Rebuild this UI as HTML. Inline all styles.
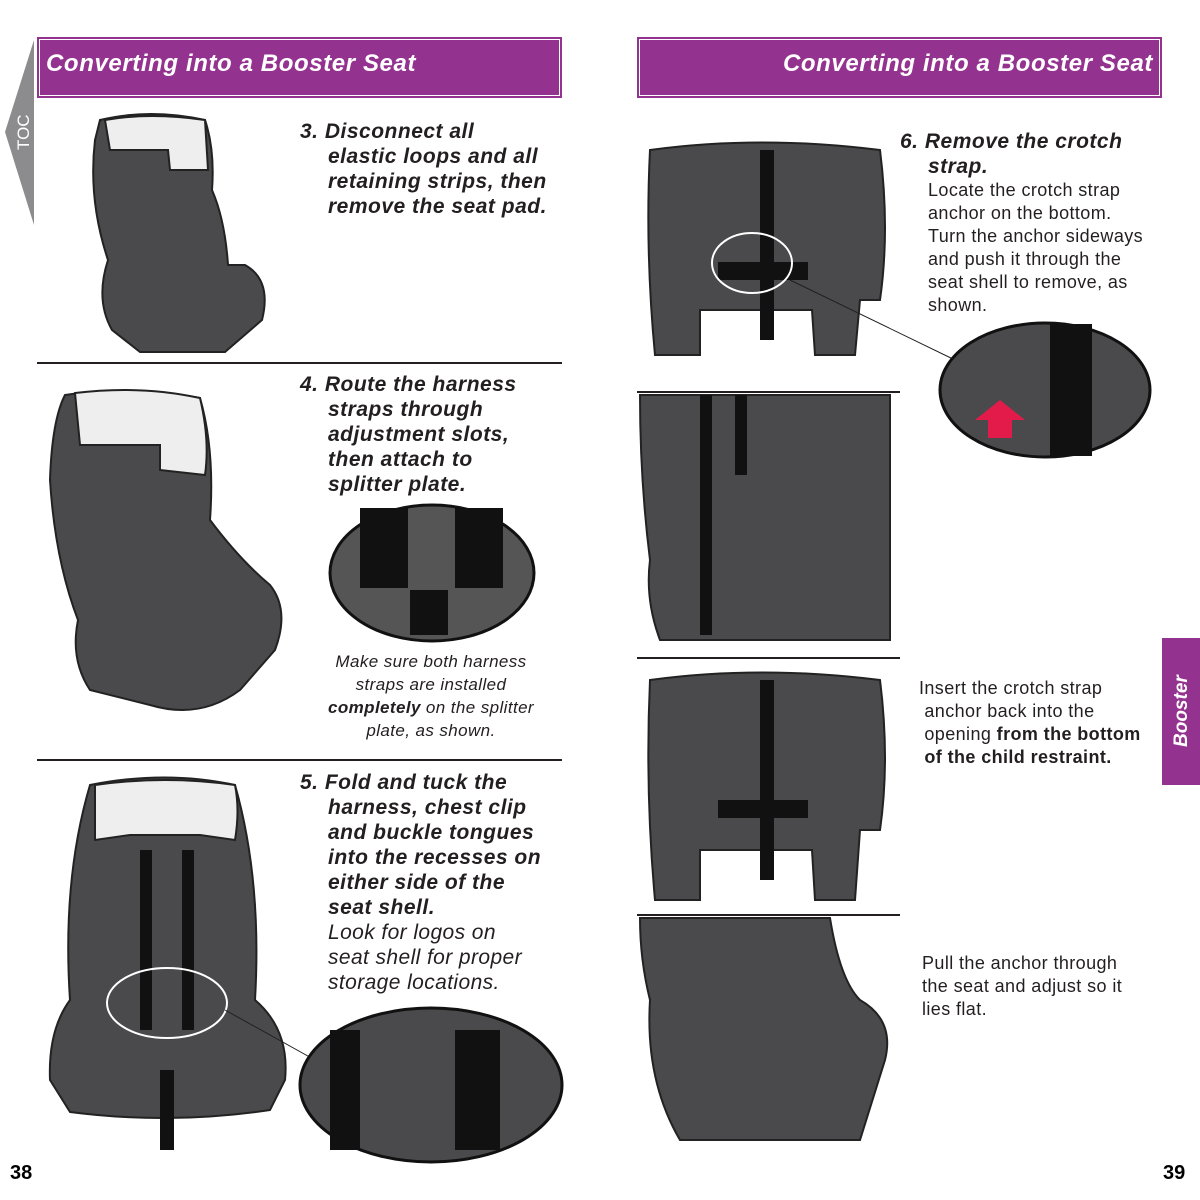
<!DOCTYPE html>
<html><head><meta charset="utf-8"><style>
html,body{margin:0;padding:0;background:#fff}
body{width:1200px;height:1200px;position:relative;overflow:hidden;font-family:"Liberation Sans",sans-serif}
.t{position:absolute;font-weight:bold;font-style:italic;color:#231f20;font-size:21px;line-height:25px;letter-spacing:0.5px}
.i{display:inline-block;width:28px}
.b{position:absolute;color:#231f20;font-size:18px;line-height:23px;letter-spacing:0.4px}
.hd{position:absolute;top:37px;height:61px;width:525px;background:#94338f;box-sizing:border-box;border:1px solid #94338f;outline:1px solid #fff;outline-offset:-3px;color:#fff;font-weight:bold;font-style:italic;font-size:24px;line-height:52px;letter-spacing:0.6px}
</style></head><body>
<div class="hd" style="left:37px;padding-left:8px">Converting into a Booster Seat</div>
<div class="hd" style="left:637px;text-align:right;padding-right:8px">Converting into a Booster Seat</div>
<svg width="1200" height="1200" style="position:absolute;left:0;top:0">
<polygon points="34,40 34,225 5,132" fill="#8c8c8e"/>
<text x="0" y="0" transform="translate(29,150) rotate(-90)" fill="#fff" font-size="17" font-family="Liberation Sans">TOC</text>
<rect x="1162" y="638" width="38" height="147" fill="#94338f"/>
<text transform="translate(1187,747) rotate(-90)" fill="#fff" font-size="19" font-weight="bold" font-style="italic" font-family="Liberation Sans">Booster</text>
<g stroke="#231f20" stroke-width="2"><line x1="37" y1="363" x2="562" y2="363"/><line x1="37" y1="760" x2="562" y2="760"/><line x1="637" y1="392" x2="900" y2="392"/><line x1="637" y1="658" x2="900" y2="658"/><line x1="637" y1="915" x2="900" y2="915"/></g>
<g fill="#4a4a4c" stroke="#222" stroke-width="2">
<path d="M100,120 Q150,108 205,120 Q215,150 212,190 Q225,220 228,265 L245,265 Q272,280 262,320 L225,352 L140,352 L112,330 Q95,300 108,260 Q88,200 95,140 Z"/>
<path d="M105,120 Q150,112 205,120 L208,170 L170,170 L168,150 L110,150 Z" fill="#eee"/>
<path d="M65,395 Q130,385 200,398 Q215,450 210,520 Q240,560 270,585 Q290,610 275,650 L240,690 Q200,720 150,705 L90,690 Q70,660 78,620 Q55,560 50,480 Q52,420 65,395 Z"/>
<path d="M75,393 Q140,385 200,398 Q210,440 205,475 L160,470 L160,445 L80,445 Z" fill="#eee"/>
<path d="M90,785 Q165,770 235,785 Q262,880 255,1000 Q290,1030 285,1080 L270,1110 Q170,1125 70,1112 L50,1080 Q48,1030 70,1000 Q62,880 90,785 Z"/>
<path d="M95,785 Q165,775 235,785 Q240,810 235,840 L200,835 L130,835 L95,840 Z" fill="#eee"/>
<path d="M650,150 Q760,135 880,150 Q890,230 880,300 L860,300 L855,355 L815,355 L812,310 L700,310 L700,355 L655,355 Q645,250 650,150 Z"/>
<path d="M640,395 L890,395 L890,640 L660,640 Q645,600 650,560 Q640,480 640,395 Z"/>
<path d="M650,680 Q760,665 880,680 Q890,760 880,830 L860,830 L855,900 L815,900 L812,850 L700,850 L700,900 L655,900 Q645,790 650,680 Z"/>
<path d="M640,918 L830,918 Q840,980 860,1000 Q895,1020 885,1060 L860,1140 L680,1140 Q645,1080 650,1000 Q640,960 640,918 Z"/>
</g>
<g fill="#111"><rect x="760" y="150" width="14" height="190"/><rect x="760" y="680" width="14" height="200"/><rect x="718" y="262" width="90" height="18"/><rect x="718" y="800" width="90" height="18"/><rect x="160" y="1070" width="14" height="80"/><rect x="140" y="850" width="12" height="180"/><rect x="182" y="850" width="12" height="180"/><rect x="700" y="395" width="12" height="240"/><rect x="735" y="395" width="12" height="80"/></g>
<ellipse cx="752" cy="263" rx="40" ry="30" fill="none" stroke="#fff" stroke-width="2"/>
<line x1="790" y1="280" x2="955" y2="360" stroke="#231f20"/>
<ellipse cx="1045" cy="390" rx="105" ry="67" fill="#4a4a4c" stroke="#111" stroke-width="3"/>
<rect x="1050" y="324" width="42" height="132" fill="#111"/>
<polygon points="1000,400 1025,420 1012,420 1012,438 988,438 988,420 975,420" fill="#e31b4b"/>
<ellipse cx="432" cy="573" rx="102" ry="68" fill="#555" stroke="#111" stroke-width="3"/>
<rect x="360" y="508" width="48" height="80" fill="#111"/><rect x="455" y="508" width="48" height="80" fill="#111"/><rect x="410" y="590" width="38" height="45" fill="#111"/>
<ellipse cx="167" cy="1003" rx="60" ry="35" fill="none" stroke="#fff" stroke-width="2"/>
<line x1="225" y1="1010" x2="315" y2="1060" stroke="#231f20"/>
<ellipse cx="431" cy="1085" rx="131" ry="77" fill="#4a4a4c" stroke="#111" stroke-width="3"/>
<rect x="330" y="1030" width="30" height="120" fill="#111"/><rect x="455" y="1030" width="45" height="120" fill="#111"/>
</svg>
<div class="t" style="left:300px;top:119px">3. Disconnect all<br><span class="i"></span>elastic loops and all<br><span class="i"></span>retaining strips, then<br><span class="i"></span>remove the seat pad.</div>
<div class="t" style="left:300px;top:372px">4. Route the harness<br><span class="i"></span>straps through<br><span class="i"></span>adjustment slots,<br><span class="i"></span>then attach to<br><span class="i"></span>splitter plate.</div>
<div class="b" style="left:311px;top:650px;width:240px;text-align:center;font-style:italic;font-size:17px">Make sure both harness straps are installed <b>completely</b> on the splitter plate, as shown.</div>
<div class="t" style="left:300px;top:770px">5. Fold and tuck the<br><span class="i"></span>harness, chest clip<br><span class="i"></span>and buckle tongues<br><span class="i"></span>into the recesses on<br><span class="i"></span>either side of the<br><span class="i"></span>seat shell.</div>
<div class="b" style="left:328px;top:920px;font-style:italic;font-size:21px;line-height:25px">Look for logos on<br>seat shell for proper<br>storage locations.</div>
<div class="t" style="left:900px;top:129px">6. Remove the crotch<br><span class="i"></span>strap.</div>
<div class="b" style="left:928px;top:179px">Locate the crotch strap<br>anchor on the bottom.<br>Turn the anchor sideways<br>and push it through the<br>seat shell to remove, as<br>shown.</div>
<div class="b" style="left:919px;top:677px">Insert the crotch strap<br>&nbsp;anchor back into the<br>&nbsp;opening <b>from the bottom</b><br>&nbsp;<b>of the child restraint.</b></div>
<div class="b" style="left:922px;top:952px">Pull the anchor through<br>the seat and adjust so it<br>lies flat.</div>
<div style="position:absolute;left:10px;top:1162px;font-weight:bold;font-size:20px">38</div>
<div style="position:absolute;left:1163px;top:1162px;font-weight:bold;font-size:20px">39</div>
</body></html>
